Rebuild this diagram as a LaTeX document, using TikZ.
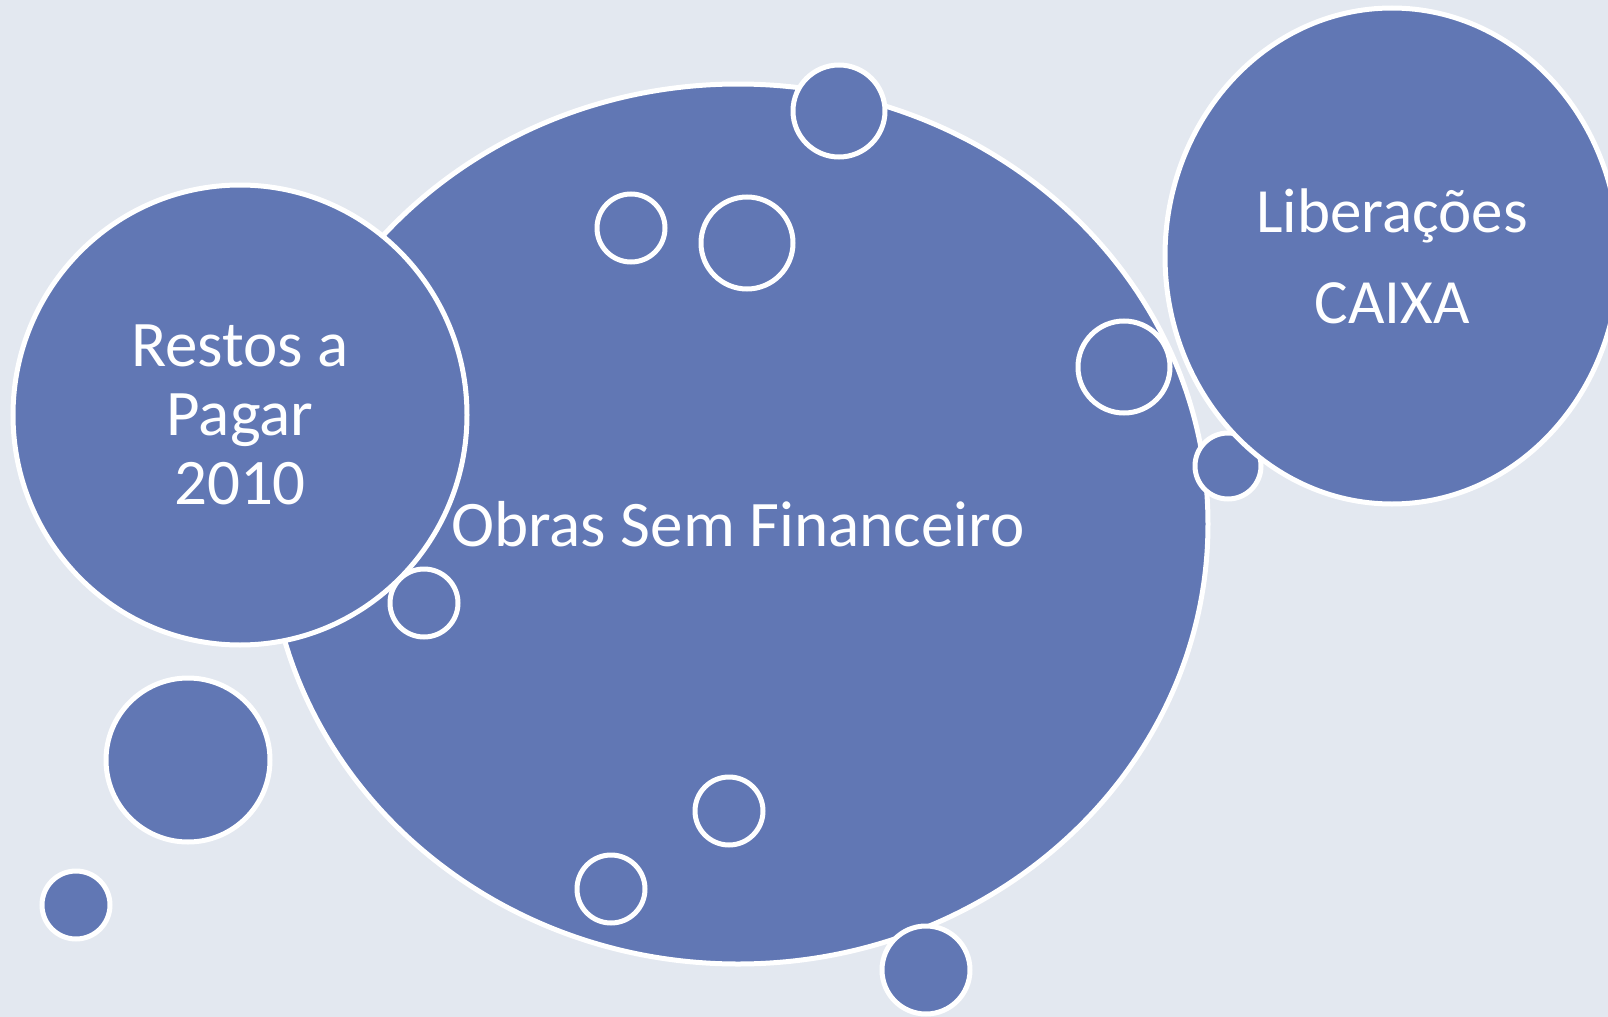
\documentclass[tikz,border=0pt]{standalone}
\usepackage{fontspec}
\setmainfont{Carlito}
\usetikzlibrary{shapes.geometric}
\definecolor{bgblue}{HTML}{E3E8F0}
\definecolor{bubbleblue}{HTML}{6177B4}

\begin{document}
\begin{tikzpicture}[x=0.5pt,y=-0.5pt,
    bubble/.style={ellipse,fill=bubbleblue,draw=white,line width=2.5pt,inner sep=0pt,text=white,align=center},
    ring/.style={circle,fill=bubbleblue,draw=white,line width=2.5pt,inner sep=0pt}]
                \clip (0,0) rectangle (1608,1017);
                \fill[bgblue] (0,0) rectangle (1608,1017);
                \node[bubble,minimum width=470pt,minimum height=440pt] (obras) at (738,524) {};
                \node[ring,minimum size=46pt] (dottop) at (839,111) {};
                \node[ring,minimum size=34pt] (dotb) at (631,228) {};
                \node[ring,minimum size=46pt] (dotc) at (747,243) {};
                \node[ring,minimum size=46pt] (dotd) at (1124,367) {};
                \node[ring,minimum size=33pt] (dote) at (1228,466) {};
                \node[ring,minimum size=34pt] (dotj) at (729,811) {};
                \node[ring,minimum size=34pt] (dotk) at (611,889) {};
                \node[ring,minimum size=44pt] (dotl) at (926,970) {};
                \node[bubble,minimum width=227pt,minimum height=248pt,font=\fontsize{31.5}{45.5}\selectfont] (caixa) at (1392,256) {Liberações\\CAIXA};
                \node[bubble,minimum width=227pt,minimum height=230pt,font=\fontsize{32.5}{34.5}\selectfont] (restos) at (240,415) {Restos a\\Pagar\\2010};
                \node[ring,minimum size=34pt] (dotg) at (424,603) {};
                \node[ring,minimum size=82pt] (doth) at (188,760) {};
                \node[ring,minimum size=34pt] (doti) at (76,905) {};
                \node[text=white,font=\fontsize{32.5}{40}\selectfont] (obraslabel) at (obras.center) {Obras Sem Financeiro};
\end{tikzpicture}
\end{document}
